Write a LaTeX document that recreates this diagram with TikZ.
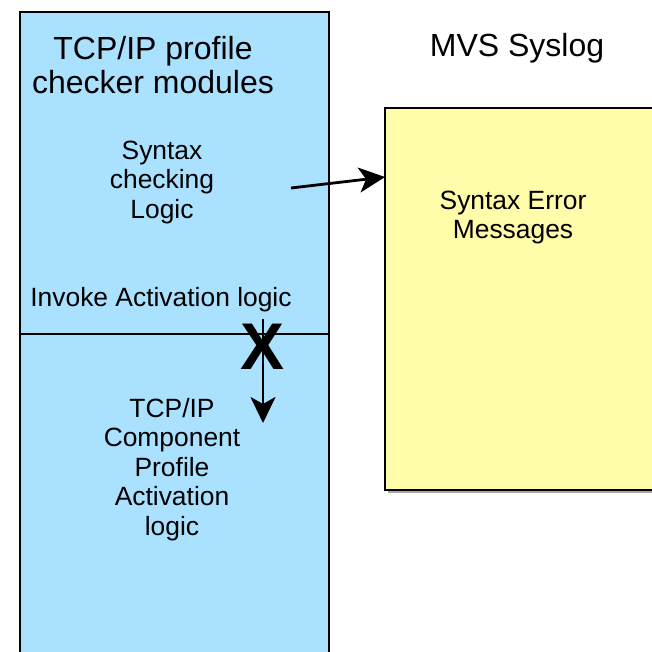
\documentclass[tikz,border=0pt]{standalone}
\usepackage{fontspec}
\setmainfont{Liberation Sans}
\usetikzlibrary{arrows.meta}
\definecolor{pblue}{HTML}{AAE1FF}
\definecolor{pyellow}{HTML}{FFFCAA}
\tikzset{
  box/.style={draw=black, line width=1.6pt},
  lbl/.style={align=center, inner sep=0pt, font=\fontsize{26.4}{29.5}\selectfont},
  big/.style={align=center, inner sep=0pt, font=\fontsize{32}{34}\selectfont},
  arr/.style={line width=2.8pt, -{Stealth[length=26pt,width=25pt,inset=7pt]}}
}
\begin{document}
\begin{tikzpicture}[x=1pt,y=-1pt]
\useasboundingbox (0,0) rectangle (651,652);
\fill[white] (0,0) rectangle (651,652);
% blue boxes
\path[box, fill=pblue] (20,12) rectangle (329,334);
\path[box, fill=pblue] (20,334) rectangle (329,670);
% yellow box
\fill[gray!70] (388,111) rectangle (660,493);
\path[box, fill=pyellow, line width=1.3pt] (385,108) rectangle (660,490);
\coordinate (yw) at (385,177);
% texts
\node[big] (title) at (153,65) {TCP/IP profile\\checker modules};
\node[big] (mvs) at (517,48) {MVS Syslog};
\node[lbl] (syn) at (162,182.5) {Syntax\\checking\\Logic};
\node[lbl] (err) at (513,217.5) {Syntax Error\\Messages};
\node[lbl] (inv) at (161,300) {Invoke Activation logic};
\node[lbl] (act) at (172,469.5) {TCP/IP\\Component\\Profile\\Activation\\logic};
% connectors
\coordinate (s0) at (291,188);
\draw[arr] (s0) -- (yw);
\coordinate (v0) at (263,319);
\coordinate (v1) at (263,423);
\draw[arr] (v0) -- (v1);
\node[inner sep=0pt, font=\fontsize{66}{66}\bfseries\selectfont] (x) at (263,347) {X};
\end{tikzpicture}
\end{document}
